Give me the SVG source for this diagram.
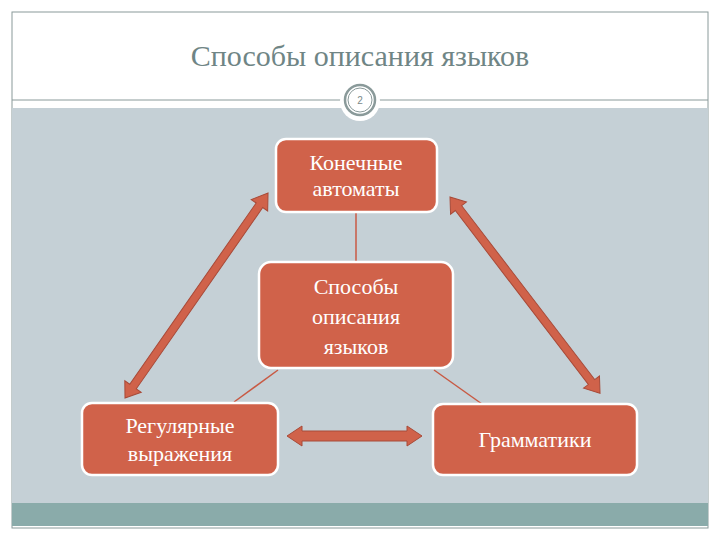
<svg xmlns="http://www.w3.org/2000/svg" width="720" height="540" viewBox="0 0 720 540">
<defs>
<style>
.box{fill:#d0624a;stroke:#fff;stroke-width:2.5}
.t{font-family:"Liberation Serif",serif;fill:#fff;font-size:22px;text-anchor:middle}
.ln{stroke:#c85a44;stroke-width:1.5}
.arr{fill:#d0624a;stroke:#a84a38;stroke-width:1}
</style>
</defs>
<rect x="0" y="0" width="720" height="540" fill="#fff"/>
<rect x="12" y="12" width="696" height="516" fill="#fff" stroke="#8a9a9a" stroke-width="1"/>
<rect x="12" y="108" width="696" height="396" fill="#c5d0d6"/>
<rect x="12" y="503" width="696" height="23" fill="#8aabaa"/>
<line x1="12" y1="100" x2="708" y2="100" stroke="#8a9a9a" stroke-width="1"/>
<text x="360" y="66" font-family="Liberation Serif,serif" font-size="30" fill="#6f8585" text-anchor="middle">Способы описания языков</text>
<circle cx="360" cy="101" r="20" fill="#fff"/>
<circle cx="360" cy="100" r="15" fill="#fff" stroke="#8a9a9a" stroke-width="2.5"/>
<circle cx="360" cy="100" r="12" fill="none" stroke="#8a9a9a" stroke-width="1"/>
<text x="360" y="104" font-family="Liberation Sans,sans-serif" font-size="10" fill="#7a8a8a" text-anchor="middle">2</text>
<g id="connectors">
<line class="ln" x1="356" y1="212" x2="356" y2="262"/>
<line class="ln" x1="278" y1="370" x2="234" y2="402"/>
<line class="ln" x1="434" y1="370" x2="482" y2="404"/>
<g transform="translate(125,398) rotate(-55.1)"><polygon class="arr" points="0,0 14,-10 14,-4 235,-4 235,-10 250,0 235,10 235,4 14,4 14,10"/></g>
<g transform="translate(450,197) rotate(52.6)"><polygon class="arr" points="0,0 14,-10 14,-4 233,-4 233,-10 247,0 233,10 233,4 14,4 14,10"/></g>
<polygon class="arr" points="287,436 302,426 302,431 407,431 407,426 422,436 407,446 407,441 302,441 302,446"/>
</g>
<g id="n-top"><rect class="box" x="276" y="139" width="161" height="73" rx="10"/>
<text class="t" x="356" y="170">Конечные</text><text class="t" x="356" y="196">автоматы</text></g>
<g id="n-center"><rect class="box" x="259" y="262" width="194" height="106" rx="12"/>
<text class="t" x="356" y="294" font-size="24">Способы</text><text class="t" x="356" y="324" font-size="24">описания</text><text class="t" x="356" y="354" font-size="24">языков</text></g>
<g id="n-left"><rect class="box" x="82" y="403" width="196" height="72" rx="10"/>
<text class="t" x="180" y="433">Регулярные</text><text class="t" x="180" y="461">выражения</text></g>
<g id="n-right"><rect class="box" x="433" y="404" width="204" height="71" rx="10"/>
<text class="t" x="535" y="447">Грамматики</text></g>
</svg>
